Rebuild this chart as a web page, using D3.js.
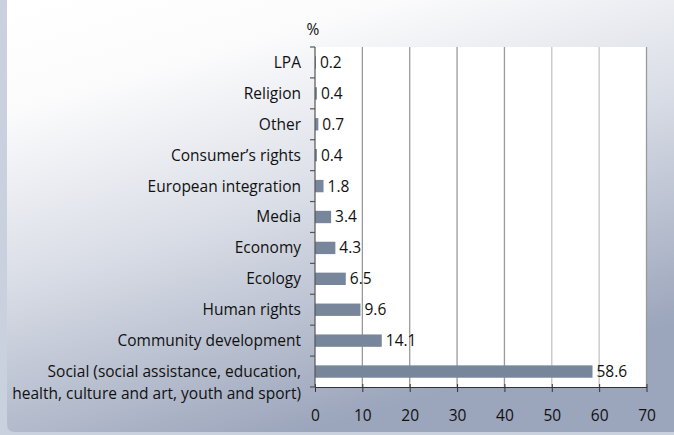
<!DOCTYPE html>
<html>
<head>
<meta charset="utf-8">
<script src="https://cdn.jsdelivr.net/npm/d3@7"></script>
<style>
  html, body { margin: 0; padding: 0; background: #ffffff; }
  svg { display: block; }
  text { font-family: "Open Sans", "Noto Sans", sans-serif; fill: #111; }
</style>
</head>
<body>
<svg id="chart" width="674" height="435"></svg>
<script>
// Share of organisations by field of activity, %
const categories = [
  "LPA",
  "Religion",
  "Other",
  "Consumer’s rights",
  "European integration",
  "Media",
  "Economy",
  "Ecology",
  "Human rights",
  "Community development",
  "Social (social assistance, education,|health, culture and art, youth and sport)"
];
const values = [0.2, 0.4, 0.7, 0.4, 1.8, 3.4, 4.3, 6.5, 9.6, 14.1, 58.6];
const xTicks = [0, 10, 20, 30, 40, 50, 60, 70];
const unitLabel = "%";

const W = 674, H = 435;
const margin = { top: 47, right: 28, bottom: 48, left: 315 };
const innerW = W - margin.left - margin.right;
const innerH = H - margin.top - margin.bottom;
const fontSize = 15.5;

const svg = d3.select("#chart");

// Panel background: white fading into blue-grey toward the bottom right
const defs = svg.append("defs");
const grad = defs.append("linearGradient")
  .attr("id", "panelGrad")
  .attr("x1", 0).attr("y1", 0).attr("x2", 0.45).attr("y2", 1);
grad.append("stop").attr("offset", 0).attr("stop-color", "#ffffff");
grad.append("stop").attr("offset", 0.22).attr("stop-color", "#fbfbfc");
grad.append("stop").attr("offset", 0.55).attr("stop-color", "#d9dde6");
grad.append("stop").attr("offset", 1).attr("stop-color", "#9ba5bb");

svg.append("rect").attr("x", 0).attr("y", 0).attr("width", W).attr("height", H)
  .attr("fill", "#c9d0de");
svg.append("path")
  .attr("d", `M7,0 H${W} V432 H15 Q7,432 7,424 Z`)
  .attr("fill", "url(#panelGrad)");

const g = svg.append("g").attr("transform", `translate(${margin.left},${margin.top})`);

const x = d3.scaleLinear().domain([0, 70]).range([0, innerW + 0.5]);
const y = d3.scaleBand().domain(categories).range([0, innerH]).paddingInner(0.6).paddingOuter(0.3);
const yEdge = d3.scaleLinear().domain([0, categories.length]).range([0, innerH]);

// White plotting area
g.append("rect").attr("x", 0).attr("y", 0).attr("width", x(70)).attr("height", innerH)
  .attr("fill", "#ffffff");

// Vertical gridlines
g.append("g").selectAll("line")
  .data(xTicks.slice(1))
  .join("line")
  .attr("x1", d => x(d)).attr("x2", d => x(d))
  .attr("y1", 0).attr("y2", innerH)
  .attr("stroke", d => (d === 50 || d === 60) ? "#c4c4c4" : "#9a9a9a")
  .attr("stroke-width", 1.3);

// Bars
g.append("g").selectAll("rect")
  .data(values)
  .join("rect")
  .attr("x", 0)
  .attr("y", (d, i) => y(categories[i]))
  .attr("width", d => x(d))
  .attr("height", y.bandwidth())
  .attr("fill", "#78869b");

// Value labels
g.append("g").selectAll("text")
  .data(values)
  .join("text")
  .attr("x", d => x(d) + 4)
  .attr("y", (d, i) => y(categories[i]) + y.bandwidth() / 2)
  .attr("dy", "0.35em")
  .attr("font-size", fontSize)
  .text(d => d3.format(".1f")(d));

// Bottom axis
const xAxis = d3.axisBottom(x).tickValues(xTicks).tickSize(5).tickSizeOuter(0).tickPadding(18);
const gx = g.append("g").attr("transform", `translate(0,${innerH})`).call(xAxis);
gx.select(".domain").attr("stroke", "#333").attr("stroke-width", 1.2);
gx.selectAll(".tick line").attr("y1", -3).attr("stroke", "#333");
gx.selectAll(".tick text").attr("font-size", fontSize).attr("fill", "#111")
  .attr("font-family", "\"Open Sans\", sans-serif");

// Left axis with ticks on category boundaries
g.append("line").attr("x1", 0).attr("x2", 0).attr("y1", 0).attr("y2", innerH)
  .attr("stroke", "#555").attr("stroke-width", 1.2);
g.append("g").selectAll("line")
  .data(d3.range(categories.length + 1))
  .join("line")
  .attr("x1", -5).attr("x2", 0)
  .attr("y1", d => yEdge(d)).attr("y2", d => yEdge(d))
  .attr("stroke", "#555").attr("stroke-width", 1.2);

// Category labels (multi-line where "|" splits)
const labels = g.append("g").selectAll("text")
  .data(categories)
  .join("text")
  .attr("text-anchor", "end")
  .attr("font-size", fontSize)
  .attr("x", -14)
  .attr("y", d => y(d) + y.bandwidth() / 2);
labels.each(function(d) {
  const parts = d.split("|");
  const t = d3.select(this);
  parts.forEach((p, i) => {
    t.append("tspan").attr("x", -14).attr("dy", i === 0 ? "0.35em" : "1.4em").text(p);
  });
});

// Unit label above the axis
svg.append("text").attr("x", 313).attr("y", 35).attr("text-anchor", "middle")
  .attr("font-size", fontSize).text(unitLabel);
</script>
</body>
</html>
